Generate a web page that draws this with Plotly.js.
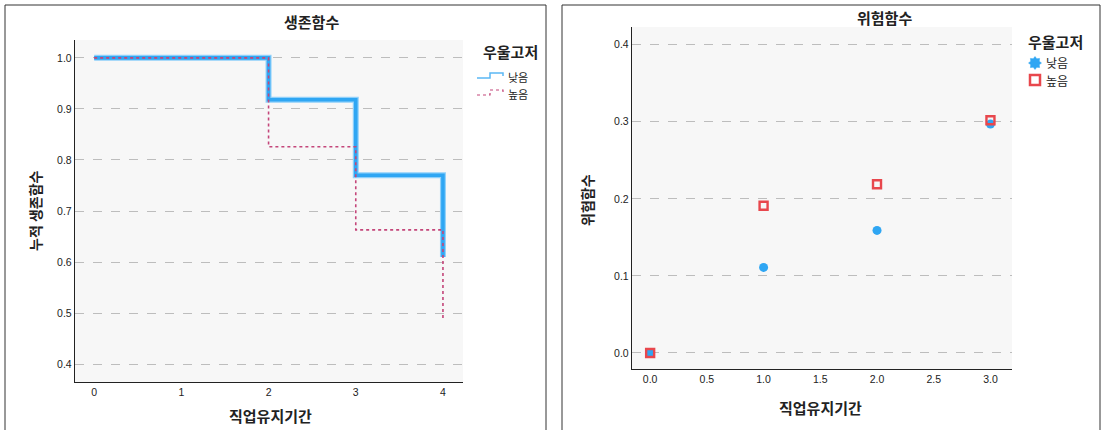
<!DOCTYPE html>
<html>
<head>
<meta charset="utf-8">
<script src="https://cdn.plot.ly/plotly-3.0.1.min.js"></script>
<style>html,body{margin:0;padding:0;background:#fff}#chart{width:1104px;height:430px}</style>
</head>
<body>
<div id="chart"></div>
<script>
// Survival function (생존함수)
const survTime = [0, 2, 3, 4];
const survLow = [1.0, 0.918, 0.770, 0.610];
const survHigh = [1.0, 0.826, 0.663, 0.490];

// Hazard function (위험함수)
const hazTime = [0, 1, 2, 3];
const hazLow = [0.0, 0.111, 0.159, 0.297];
const hazHigh = [0.0, 0.191, 0.219, 0.302];

const groupNames = ['낮음', '높음'];
const legendTitle = '우울고저';
const titles = ['생존함수', '위험함수'];
const xTitle = '직업유지기간';
const yTitles = ['누적 생존함수', '위험함수'];

const survXTicks = [0, 1, 2, 3, 4];
const survYTicks = [0.4, 0.5, 0.6, 0.7, 0.8, 0.9, 1.0];
const hazXTicks = [0, 0.5, 1, 1.5, 2, 2.5, 3];
const hazYTicks = [0, 0.1, 0.2, 0.3, 0.4];

const W = 1104, H = 430;
const px = v => v / W, py = v => 1 - v / H;
const KFONT = '"Noto Sans CJK KR", "Noto Sans", sans-serif';
const NFONT = '"Liberation Sans", Arial, sans-serif';
const BLUE = '#2FA6F3', RED_LINE = '#C4467A', RED = '#E8474D';

const traces = [
  {x: survTime, y: survLow, mode: 'lines', line: {shape: 'hv', color: '#8FD0FA', width: 6},
   name: groupNames[0], xaxis: 'x', yaxis: 'y', showlegend: false, hoverinfo: 'skip'},
  {x: survTime, y: survLow, mode: 'lines', line: {shape: 'hv', color: BLUE, width: 3.6},
   name: groupNames[0], xaxis: 'x', yaxis: 'y', showlegend: false},
  {x: survTime, y: survHigh, mode: 'lines', line: {shape: 'hv', color: RED_LINE, width: 1.6, dash: 'dot'},
   name: groupNames[1], xaxis: 'x', yaxis: 'y', showlegend: false},
  {x: hazTime, y: hazLow, mode: 'markers', marker: {symbol: 'circle', size: 9, color: BLUE},
   name: groupNames[0], xaxis: 'x2', yaxis: 'y2', showlegend: false},
  {x: hazTime, y: hazHigh, mode: 'markers', marker: {symbol: 'square-open', size: 8, color: RED, line: {width: 2.4, color: RED}},
   name: groupNames[1], xaxis: 'x2', yaxis: 'y2', showlegend: false}
];

const axBase = {
  showline: true, linecolor: '#222', linewidth: 1.2, mirror: false,
  ticks: '', zeroline: false, tickfont: {family: NFONT, size: 10.5, color: '#222'},
  fixedrange: true
};
const gridY = {showgrid: true, gridcolor: '#BDBDBD', griddash: 'dash', gridwidth: 1};

// manual legend decorations
function pathFrom(pts) {
  return pts.map((p, i) => (i ? 'L ' : 'M ') + px(p[0]) + ' ' + py(p[1])).join(' ');
}
function starPath(cx, cy, ro, ri, n) {
  const pts = [];
  for (let i = 0; i < 2 * n; i++) {
    const r = i % 2 ? ri : ro, a = Math.PI * i / n - Math.PI / 2;
    pts.push([cx + r * Math.cos(a), cy + r * Math.sin(a)]);
  }
  return pathFrom(pts) + ' Z';
}

const ann = (text, x, y, size, opts) => Object.assign({
  text: text, xref: 'paper', yref: 'paper', x: px(x), y: py(y), showarrow: false,
  xanchor: 'center', yanchor: 'middle', borderpad: 0, font: {family: KFONT, size: size, color: '#222'}
}, opts || {});

const layout = {
  width: W, height: H,
  margin: {l: 0, r: 0, t: 0, b: 0},
  paper_bgcolor: '#ffffff', plot_bgcolor: '#F7F7F7',
  showlegend: false,
  xaxis: Object.assign({}, axBase, {domain: [px(75), px(463)], range: [-0.22, 4.23], tickvals: survXTicks, showgrid: false, anchor: 'y'}),
  yaxis: Object.assign({}, axBase, gridY, {domain: [py(382), py(40)], range: [0.365, 1.035], tickvals: survYTicks, tickformat: '.1f', anchor: 'x'}),
  xaxis2: Object.assign({}, axBase, {domain: [px(632), px(1012)], range: [-0.16, 3.19], tickvals: hazXTicks, tickformat: '.1f', showgrid: false, anchor: 'y2'}),
  yaxis2: Object.assign({}, axBase, gridY, {domain: [py(369), py(27)], range: [-0.0208, 0.423], tickvals: hazYTicks, tickformat: '.1f', anchor: 'x2'}),
  shapes: [
    {type: 'rect', xref: 'paper', yref: 'paper', x0: px(5), x1: px(546), y0: py(445), y1: py(5), line: {color: '#333', width: 1}},
    {type: 'rect', xref: 'paper', yref: 'paper', x0: px(562), x1: px(1100), y0: py(445), y1: py(5), line: {color: '#333', width: 1}},
    {type: 'path', xref: 'paper', yref: 'paper', path: pathFrom([[477,78],[490,78],[490,73],[503,73],[503,76]]), line: {color: '#5BB8F5', width: 1.5}},
    {type: 'path', xref: 'paper', yref: 'paper', path: pathFrom([[477,95],[490,95],[490,90],[503,90],[503,93]]), line: {color: RED_LINE, width: 1.2, dash: 'dot'}},
    {type: 'path', xref: 'paper', yref: 'paper', path: starPath(1035, 63, 6.5, 4.6, 8), fillcolor: BLUE, line: {color: BLUE, width: 0.5}},
    {type: 'rect', xref: 'paper', yref: 'paper', x0: px(1030), x1: px(1040), y0: py(85), y1: py(75), line: {color: RED, width: 2.5}}
  ],
  annotations: [
    ann('<b>' + titles[0] + '</b>', 311, 22, 15),
    ann('<b>' + titles[1] + '</b>', 884, 17, 15),
    ann('<b>' + xTitle + '</b>', 270, 415, 15),
    ann('<b>' + xTitle + '</b>', 820, 407, 15),
    ann('<b>' + yTitles[0] + '</b>', 35, 211, 14, {textangle: -90}),
    ann('<b>' + yTitles[1] + '</b>', 587, 200, 14, {textangle: -90}),
    ann('<b>' + legendTitle + '</b>', 510, 52, 15),
    ann(groupNames[0], 507, 77, 11, {xanchor: 'left'}),
    ann(groupNames[1], 507, 94, 11, {xanchor: 'left'}),
    ann('<b>' + legendTitle + '</b>', 1055, 41, 15),
    ann(groupNames[0], 1045, 63, 12, {xanchor: 'left'}),
    ann(groupNames[1], 1045, 80, 12, {xanchor: 'left'})
  ]
};

Plotly.newPlot('chart', traces, layout, {staticPlot: true, displayModeBar: false});
</script>
</body>
</html>
